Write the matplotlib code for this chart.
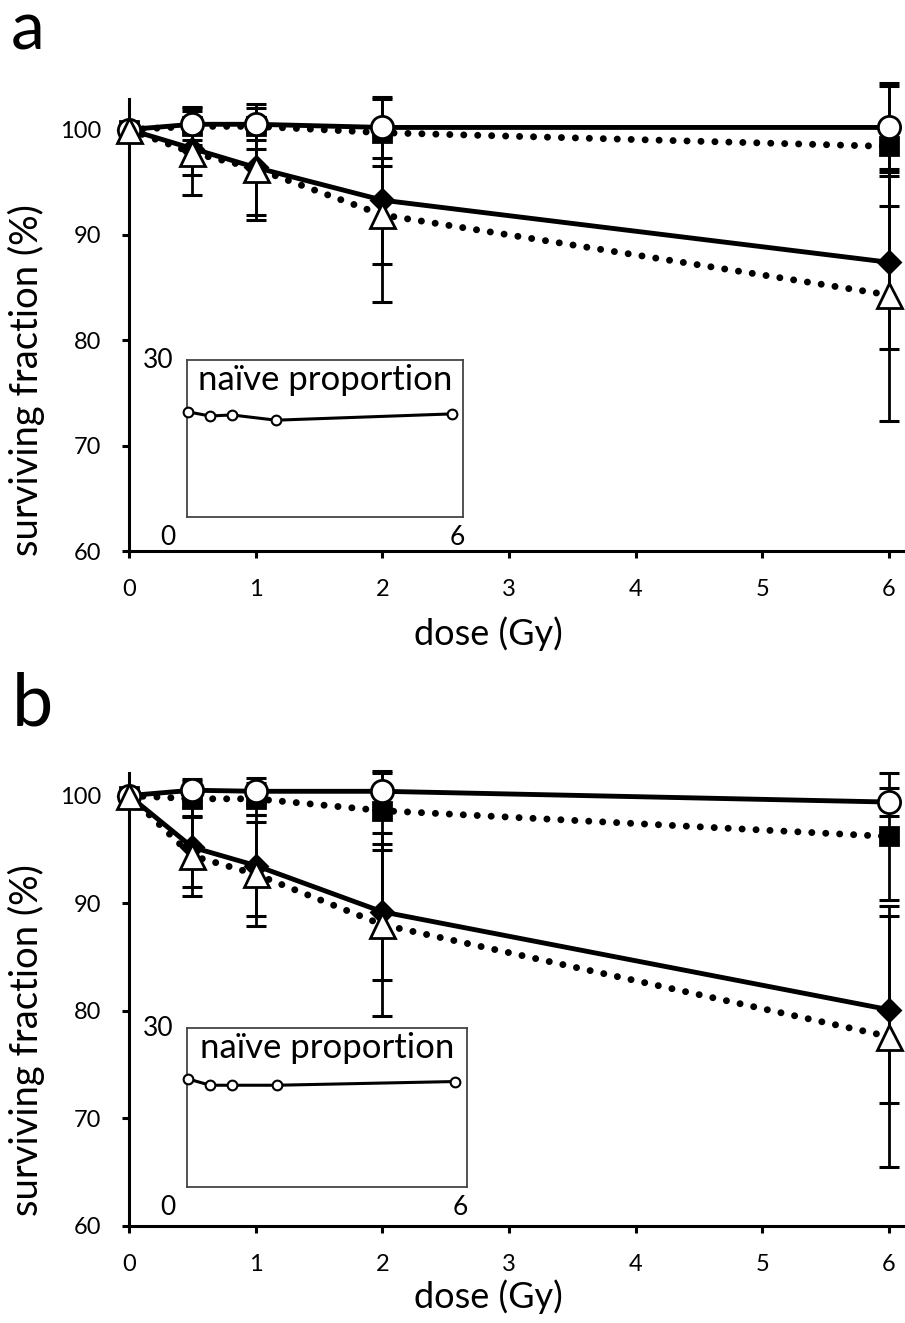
import matplotlib
matplotlib.use("Agg")
import matplotlib.pyplot as plt

plt.rcParams['font.family'] = ['Lato', 'DejaVu Sans']

dose = [0, 0.5, 1, 2, 6]

# Panel a
a_circle = [100, 100.5, 100.5, 100.2, 100.2]
a_circle_err = [0, 1.5, 1.5, 2.9, 4.2]
a_square = [100, 100.3, 100.3, 99.7, 98.4]
a_square_err = [0, 1.8, 2.1, 3.2, 5.7]
a_diamond = [100, 98.2, 96.4, 93.3, 87.4]
a_diamond_err = [0, 2.5, 4.5, 6.1, 8.2]
a_triangle = [100, 97.8, 96.3, 91.9, 84.3]
a_triangle_err = [0, 4.0, 4.9, 8.3, 12.0]
a_naive = [20.1, 19.3, 19.5, 18.5, 19.7]

# Panel b
b_circle = [100, 100.5, 100.4, 100.4, 99.4]
b_circle_err = [0, 1.0, 1.2, 1.7, 1.3]
b_square = [100, 99.7, 99.7, 98.6, 96.2]
b_square_err = [0, 1.7, 1.5, 3.7, 5.9]
b_diamond = [100, 95.2, 93.5, 89.2, 80.1]
b_diamond_err = [0, 3.7, 4.7, 6.3, 8.7]
b_triangle = [100, 94.4, 92.7, 88.0, 77.6]
b_triangle_err = [0, 3.7, 4.8, 8.5, 12.1]
b_naive = [20.4, 19.2, 19.2, 19.2, 19.9]

xticks = [0, 1, 2, 3, 4, 5, 6]
yticks = [60, 70, 80, 90, 100]

W, H = 905, 1323
fig = plt.figure(figsize=(W / 100, H / 100), dpi=100)

def fx(px):
    return px / W

def fy(py):
    return 1 - py / H

DOT = (0, (0.01, 2.0))

def main_panel(rect, ytop, series, xlab_y, ylab_y):
    ax = fig.add_axes(rect)
    styles = [
        dict(marker='s', ms=12.5, mfc='black', mec='black', ls=DOT, z=3),
        dict(marker='D', ms=11.5, mfc='black', mec='black', ls='-', z=4),
        dict(marker='o', ms=16, mfc='white', mec='black', ls='-', z=5),
        dict(marker='^', ms=18, mfc='white', mec='black', ls=DOT, z=6),
    ]
    for (vals, err), st in zip(series, styles):
        ax.errorbar(dose, vals, yerr=err, fmt='none', ecolor='black',
                    elinewidth=2.0, capsize=7, capthick=2.2, clip_on=False, zorder=2)
        lw = 5.0 if st['ls'] == DOT else 3.5
        ax.plot(dose, vals, color='black', lw=lw, ls=st['ls'],
                dash_capstyle='round', solid_capstyle='butt',
                marker=st['marker'], ms=st['ms'], mfc=st['mfc'], mec=st['mec'],
                mew=2.0, clip_on=False, zorder=st['z'])
    ax.set_xlim(0, 6.11)
    ax.set_ylim(60, ytop)
    ax.set_xticks(xticks)
    ax.set_xticklabels([str(t) for t in xticks])
    ax.set_yticks(yticks)
    ax.set_yticklabels([str(t) for t in yticks])
    for s in ['top', 'right']:
        ax.spines[s].set_visible(False)
    for s in ['left', 'bottom']:
        ax.spines[s].set_linewidth(2.2)
        ax.spines[s].set_zorder(1)
    ax.tick_params(axis='both', direction='out', length=5, width=2.2,
                   labelsize=17)
    ax.tick_params(axis='y', pad=15)
    ax.tick_params(axis='x', pad=15)
    ax.set_xlabel('dose (Gy)', fontsize=26)
    ax.set_ylabel('surviving fraction (%)', fontsize=27.5)
    ax.xaxis.set_label_coords(0.464, xlab_y)
    ax.yaxis.set_label_coords(-0.108, ylab_y)
    return ax

def inset(left, right, top, bottom, vals, xr):
    ax = fig.add_axes([fx(left), fy(bottom), fx(right - left), (bottom - top) / H])
    ax.plot(dose, vals, color='black', lw=2.2, marker='o', ms=7,
            mfc='white', mec='black', mew=1.5, clip_on=False, zorder=3)
    ax.set_xlim(-0.02, xr)
    ax.set_ylim(0, 30)
    ax.set_xticks([])
    ax.set_yticks([])
    for s in ax.spines.values():
        s.set_linewidth(1.3)
        s.set_edgecolor('#444444')
    ax.text(0.5, 0.875, 'naïve proportion', transform=ax.transAxes,
            ha='center', va='center', fontsize=25)
    ax.text(-0.05, 1.0, '30', transform=ax.transAxes, ha='right', va='center', fontsize=19)
    ax.text(-0.07, -0.13, '0', transform=ax.transAxes, ha='center', va='center', fontsize=19)
    ax.text(6.02 / (xr + 0.02) + 0.02, -0.13, '6', transform=ax.transAxes, ha='center', va='center', fontsize=19)
    return ax

# panel a
axa = main_panel([fx(129), fy(551), fx(903 - 129), (551 - 99) / H], 102.9,
                 [(a_square, a_square_err), (a_diamond, a_diamond_err),
                  (a_circle, a_circle_err), (a_triangle, a_triangle_err)],
                 -0.145, 0.378)
inset(187, 463, 360, 517, a_naive, 6.25)

# panel b
axb = main_panel([fx(129), fy(1226), fx(903 - 129), (1226 - 773) / H], 102.1,
                 [(b_square, b_square_err), (b_diamond, b_diamond_err),
                  (b_circle, b_circle_err), (b_triangle, b_triangle_err)],
                 -0.117, 0.41)
inset(187, 467, 1028, 1187, b_naive, 6.27)

fig.text(fx(11), fy(50), 'a', fontsize=49, ha='left', va='baseline')
fig.text(fx(12), fy(725), 'b', fontsize=53, ha='left', va='baseline')

fig.savefig('out.png', dpi=100)
